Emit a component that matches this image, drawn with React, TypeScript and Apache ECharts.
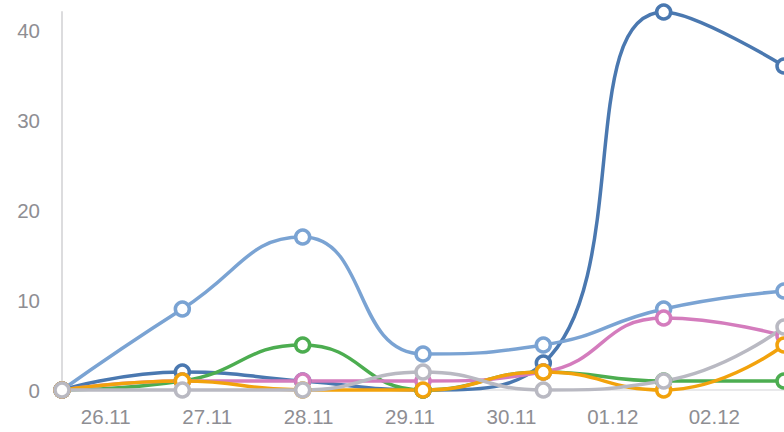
import React, { useEffect, useRef } from "react";
import * as echarts from "echarts";

const dates = ["26.11", "27.11", "28.11", "29.11", "30.11", "01.12", "02.12"];
const yTicks = [0, 10, 20, 30, 40];

const lightBlue = [0, 9, 17, 4, 5, 9, 11];
const darkBlue = [0, 2, 1, 0, 3, 42, 36];
const green = [0, 1, 5, 0, 2, 1, 1];
const pink = [0, 1, 1, 1, 2, 8, 6];
const orange = [0, 1, 0, 0, 2, 0, 5];
const gray = [0, 0, 0, 2, 0, 1, 7];

const seriesDefs = [
  { name: "dark", data: darkBlue, color: "#4a78b0" },
  { name: "light", data: lightBlue, color: "#7aa3d3" },
  { name: "green", data: green, color: "#4cad50" },
  { name: "pink", data: pink, color: "#d47cbd" },
  { name: "orange", data: orange, color: "#f2a20c" },
  { name: "gray", data: gray, color: "#b9b9c2" },
];

export default function App() {
  const ref = useRef<HTMLDivElement>(null);
  useEffect(() => {
    if (!ref.current) return;
    const chart = echarts.init(ref.current, undefined, { renderer: "svg" });
    const font = "'Liberation Sans', Arial, sans-serif";
    chart.setOption({
      animation: false,
      backgroundColor: "#ffffff",
      grid: [
        { left: 62, right: 0, top: 12, bottom: 42 },
        { left: 55, right: 19, top: 12, bottom: 42 },
      ],
      xAxis: [
        {
          type: "category",
          gridIndex: 0,
          data: dates,
          boundaryGap: false,
          axisLine: { show: true, lineStyle: { color: "#e2e2e4", width: 1.5 } },
          axisTick: { show: false },
          axisLabel: { show: false },
          splitLine: { show: false },
        },
        {
          type: "category",
          gridIndex: 1,
          data: dates,
          boundaryGap: true,
          axisLine: { show: false },
          axisTick: { show: false },
          axisLabel: {
            show: true,
            color: "#8e8e93",
            fontSize: 20.5,
            fontFamily: font,
            margin: 16,
          },
          splitLine: { show: false },
        },
      ],
      yAxis: [
        {
          type: "value",
          gridIndex: 0,
          min: yTicks[0],
          max: 42,
          interval: 10,
          axisLine: { show: true, lineStyle: { color: "#dcdcde", width: 2 } },
          axisTick: { show: false },
          splitLine: { show: false },
          axisLabel: {
            color: "#8e8e93",
            fontSize: 20.5,
            fontFamily: font,
            margin: 22,
            showMaxLabel: false,
          },
        },
        {
          type: "value",
          gridIndex: 1,
          show: false,
          min: 0,
          max: 42,
        },
      ],
      series: seriesDefs.map((s) => ({
        type: "line",
        name: s.name,
        xAxisIndex: 0,
        yAxisIndex: 0,
        data: s.data,
        smooth: 0.5,
        symbol: "circle",
        symbolSize: 14,
        showSymbol: true,
        clip: false,
        lineStyle: { color: s.color, width: 3.5 },
        itemStyle: { color: "#ffffff", borderColor: s.color, borderWidth: 3.5 },
      })),
    });
    return () => chart.dispose();
  }, []);
  return (
    <div
      ref={ref}
      style={{ position: "fixed", left: 0, top: 0, width: 784, height: 432 }}
    />
  );
}
